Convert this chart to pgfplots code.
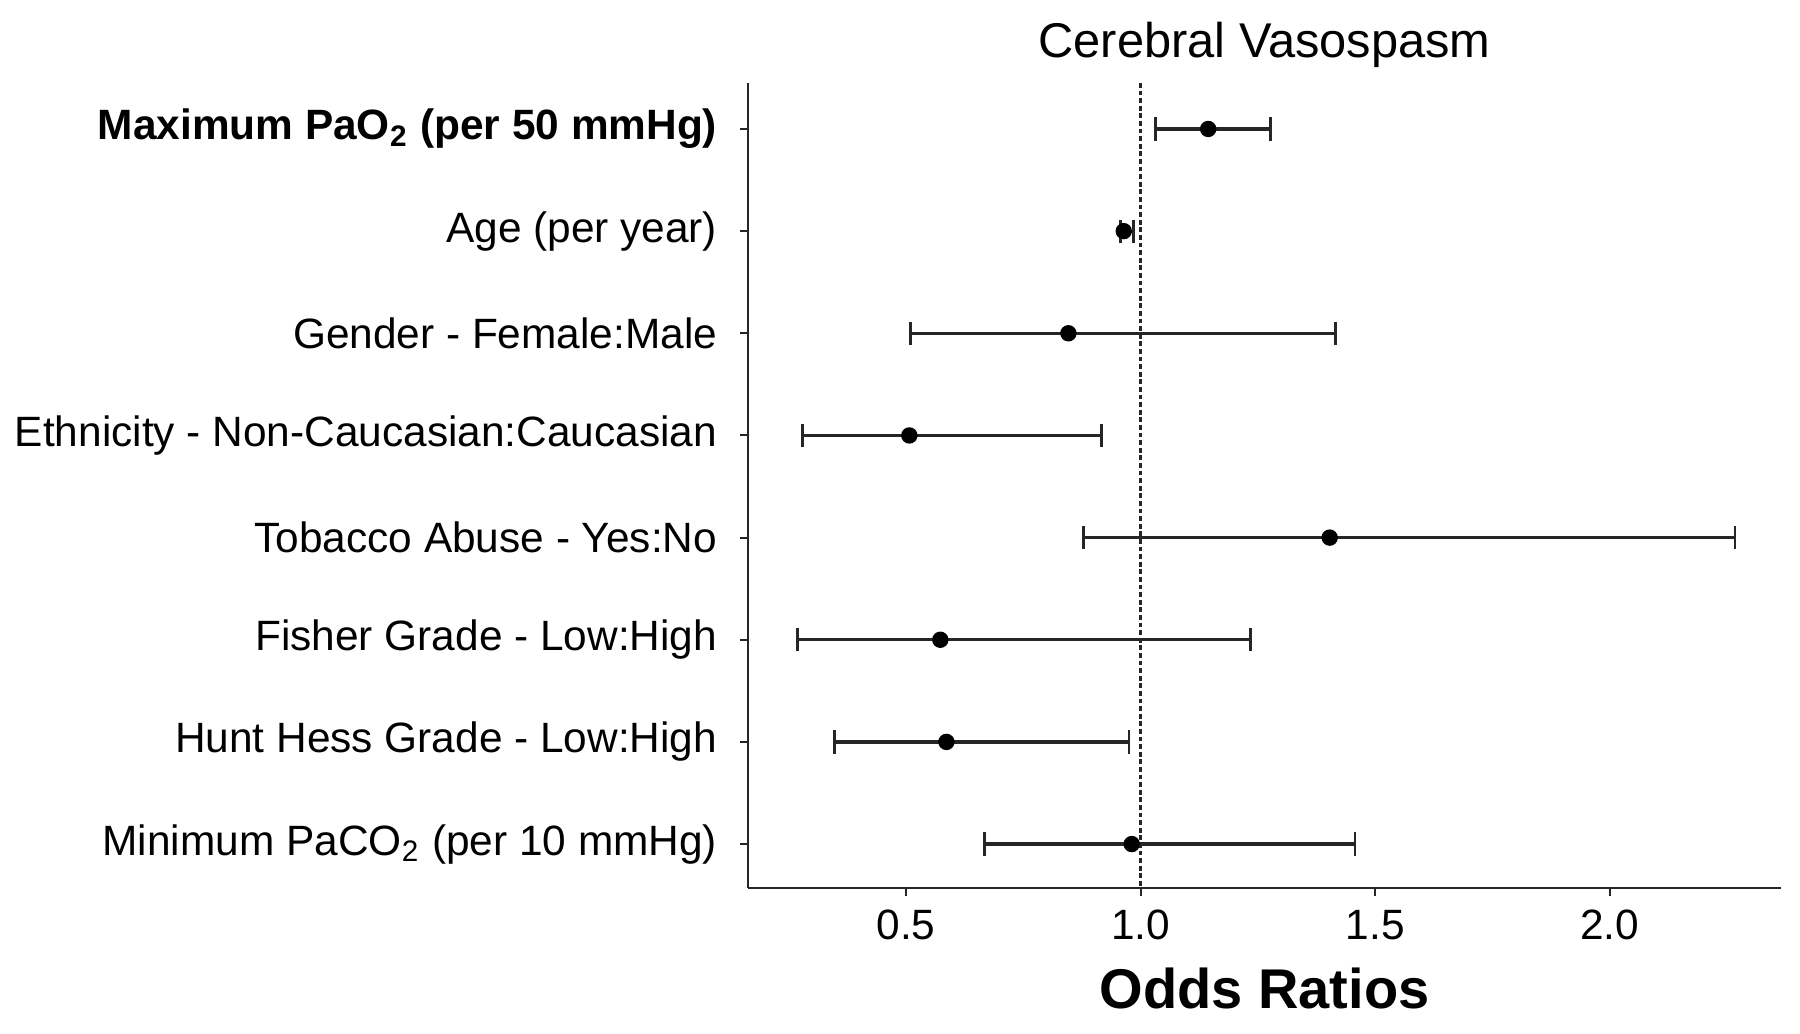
\documentclass[border=0pt]{standalone}
\usepackage{pgfplots}
\usepackage{pgfplotstable}
\pgfplotsset{compat=1.18}
\usepackage{fontspec}
\setmainfont{Liberation Sans}
\pgfplotstableread{
row or lo hi
1 1.144 1.031 1.277
2 0.964 0.957 0.985
3 0.846 0.509 1.416
4 0.507 0.280 0.916
5 1.403 0.879 2.267
6 0.573 0.268 1.235
7 0.586 0.347 0.975
8 0.981 0.667 1.457
}\ortable
\begin{document}
\begin{tikzpicture}
\path[use as bounding box] (-187pt,-36.5pt) rectangle (263pt,222pt);
\begin{axis}[
  at={(0,0)}, anchor=south west,
  scale only axis,
  width=258.25pt, height=201.25pt,
  xmin=0.163, xmax=2.365,
  ymin=0.55, ymax=8.43,
  y dir=reverse,
  axis x line=bottom, axis y line=left,
  axis line style={-, line width=0.6pt, black!85},
  tick align=outside,
  major tick length=2pt,
  tick style={line width=0.5pt, black!85},
  xtick={0.5,1,1.5,2},
  xticklabels={0.5,1.0,1.5,2.0},
  ytick={1,2,3,4,5,6,7,8},
  yticklabels={
    {\textbf{Maximum PaO\textsubscript{2} (per 50 mmHg)}},
    {Age (per year)},
    {Gender - Female:Male},
    {Ethnicity - Non-Caucasian:Caucasian},
    {Tobacco Abuse - Yes:No},
    {Fisher Grade - Low:High},
    {Hunt Hess Grade - Low:High},
    {Minimum PaCO\textsubscript{2} (per 10 mmHg)}},
  yticklabel style={font=\fontsize{10.6}{12}\selectfont, inner sep=0pt, xshift=-5.5pt},
  xticklabel style={font=\fontsize{10.6}{12}\selectfont},
  every axis title/.style={at={(0.5,1)}, anchor=base, yshift=6.5pt, inner sep=0pt,
    font=\fontsize{12.2}{14}\selectfont},
  title={Cerebral Vasospasm},
  xlabel={\textbf{Odds Ratios}},
  xlabel style={font=\fontsize{14}{16}\selectfont},
  clip=false,
]
\draw[line width=0.65pt, dash pattern=on 1.2pt off 0.7pt, black!85]
  ({axis cs:1,0}|-{rel axis cs:0,1}) -- ({axis cs:1,0}|-{rel axis cs:0,0});
\addplot[black, only marks, mark=*, mark size=1.85pt,
  error bars/.cd, x dir=both, x explicit,
  error bar style={line width=0.8pt, black!85},
  error mark options={rotate=90, line width=0.7pt, mark size=2.9pt, black!85}]
  table[x=or, y=row,
        x error plus expr=\thisrow{hi}-\thisrow{or},
        x error minus expr=\thisrow{or}-\thisrow{lo}] {\ortable};
\end{axis}
\end{tikzpicture}
\end{document}
